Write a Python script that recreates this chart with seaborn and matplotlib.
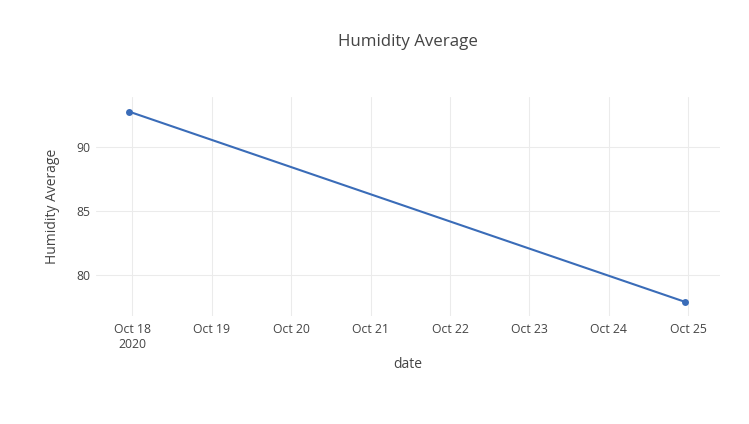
import matplotlib
matplotlib.use("Agg")
import matplotlib.pyplot as plt
import matplotlib.dates as mdates
import seaborn as sns
import pandas as pd
import numpy as np

dates = ["2020-10-17 23:05", "2020-10-24 23:05"]
humidity = [92.79, 77.89]
tick_dates = ["2020-10-18", "2020-10-19", "2020-10-20", "2020-10-21",
              "2020-10-22", "2020-10-23", "2020-10-24", "2020-10-25"]
tick_labels = ["Oct 18\n2020", "Oct 19", "Oct 20", "Oct 21",
               "Oct 22", "Oct 23", "Oct 24", "Oct 25"]
y_ticks = [80, 85, 90]

df = pd.DataFrame({"date": pd.to_datetime(dates), "Humidity Average": humidity})

sns.set_theme(style="white")
plt.rcParams['font.family'] = ['Open Sans', 'DejaVu Sans']
text_color = "#444444"
line_color = "#3a6cb8"

fig = plt.figure(figsize=(7.49, 4.24), dpi=100)
ax = fig.add_axes([96/749, 1-316/424, (720-96)/749, (316-97)/424])

sns.lineplot(data=df, x="date", y="Humidity Average", ax=ax, color=line_color,
             linewidth=1.5, marker="o", markersize=5, markeredgewidth=0,
             zorder=3)

xt = pd.to_datetime(tick_dates)
ax.set_xticks(xt)
ax.set_xticklabels(tick_labels)
ax.set_yticks(y_ticks)

x0 = mdates.date2num(pd.Timestamp(tick_dates[0]))
ax.set_xlim(x0 - 0.457, x0 + 7 + 0.399)
ax.set_ylim(76.79, 93.94)

ax.grid(True, color="#ebebeb", linewidth=0.75)
for s in ax.spines.values():
    s.set_visible(False)
ax.tick_params(axis="both", length=0, labelsize=8.8, colors=text_color)
ax.tick_params(axis="x", pad=5)
ax.tick_params(axis="y", pad=4)
for lbl in ax.get_xticklabels():
    lbl.set_linespacing(1.2)
    lbl.set_multialignment("center")

ax.set_xlabel("date", fontsize=10, color=text_color, labelpad=4)
ax.set_ylabel("Humidity Average", fontsize=10, color=text_color, labelpad=12)
fig.text(408/749, 1-42/424, "Humidity Average", ha="center", va="center",
         fontsize=12.2, color=text_color)

fig.savefig("out.png", dpi=100, facecolor="white")
